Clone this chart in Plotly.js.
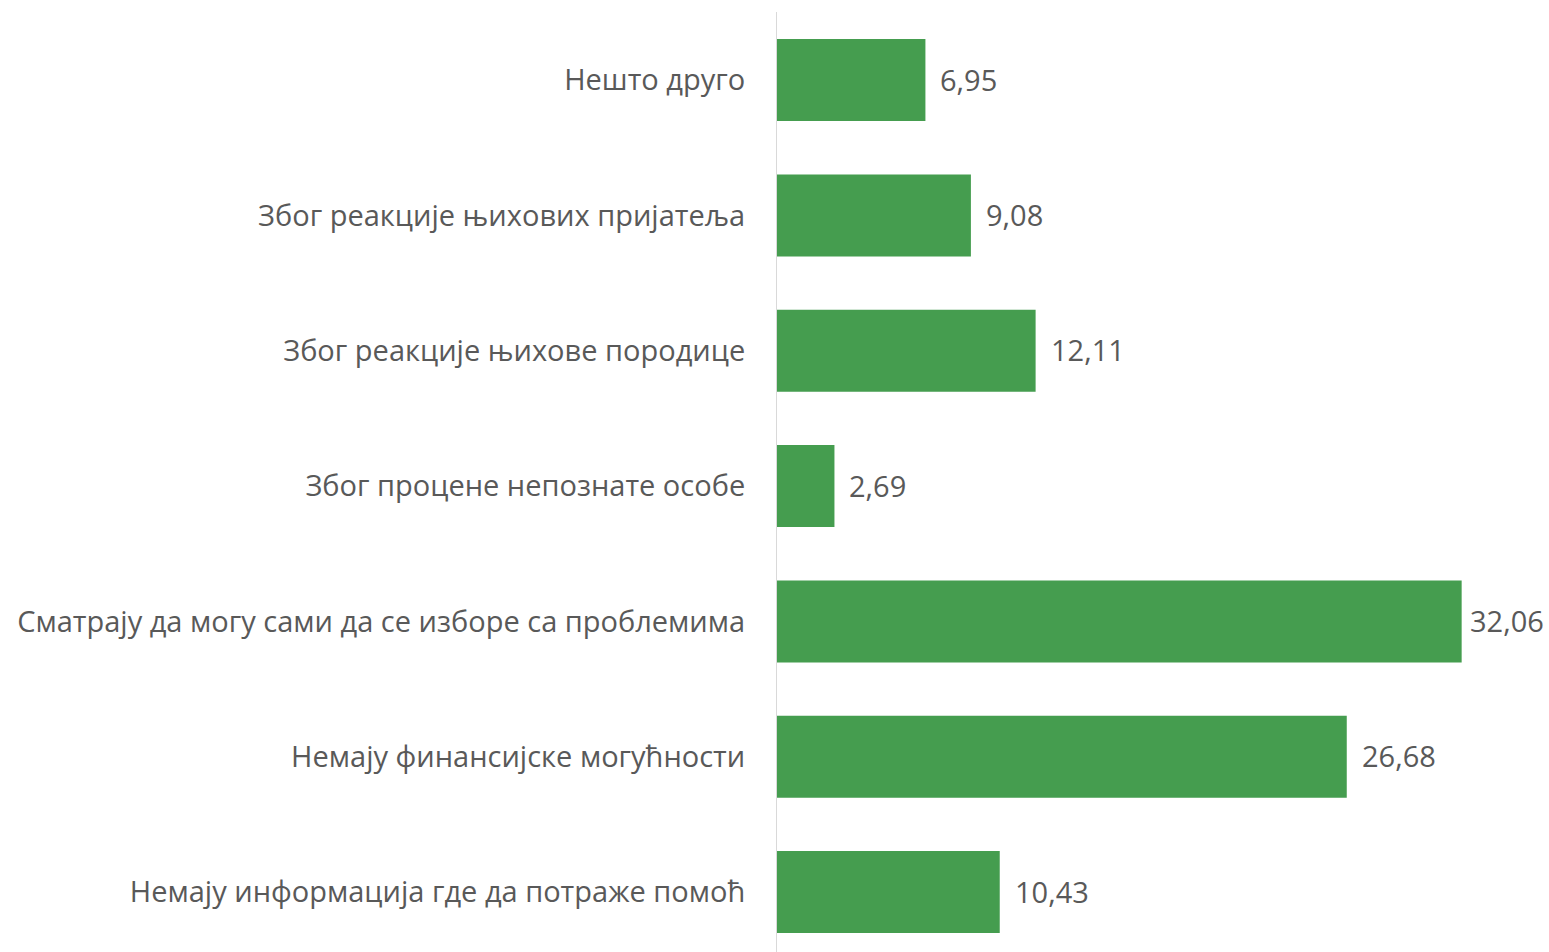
<!DOCTYPE html>
<html>
<head>
<meta charset="utf-8">
<script src="https://cdn.plot.ly/plotly-3.0.1.min.js"></script>
<style>html,body{margin:0;padding:0;background:#fff;overflow:hidden}</style>
</head>
<body>
<div id="chart" style="width:1549px;height:952px"></div>
<script>
const categories = [
  "Немају информација где да потраже помоћ",
  "Немају финансијске могућности",
  "Сматрају да могу сами да се изборе са проблемима",
  "Због процене непознате особе",
  "Због реакције њихове породице",
  "Због реакције њихових пријатеља",
  "Нешто друго"
];
const values = [10.43, 26.68, 32.06, 2.69, 12.11, 9.08, 6.95];
const valueLabels = ["10,43", "26,68", "32,06", "2,69", "12,11", "9,08", "6,95"];

const trace = {
  type: 'bar',
  orientation: 'h',
  y: categories,
  x: values,
  marker: {color: '#459D4F'},
  hoverinfo: 'none'
};

const maxVal = Math.max(...values);
const annotations = values.map((v, i) => ({
  x: v,
  y: categories[i],
  xref: 'x',
  yref: 'y',
  text: valueLabels[i],
  showarrow: false,
  xanchor: 'left',
  yanchor: 'middle',
  xshift: v === maxVal ? 6 : 13,
  yshift: 1,
  font: {family: 'Open Sans', size: 29, color: '#595959'}
}));

const layout = {
  width: 1549,
  height: 952,
  margin: {l: 777, r: 0, t: 12, b: 0, pad: 0},
  paper_bgcolor: '#ffffff',
  plot_bgcolor: '#ffffff',
  bargap: 0.394,
  showlegend: false,
  font: {family: 'Open Sans', size: 29, color: '#595959'},
  annotations: annotations,
  xaxis: {
    range: [0, 36.15],
    visible: false,
    showgrid: false,
    zeroline: false
  },
  yaxis: {
    type: 'category',
    range: [-0.443, 6.503],
    showline: true,
    linecolor: '#d9d9d9',
    linewidth: 1,
    showgrid: false,
    zeroline: false,
    ticks: '',
    ticklabelstandoff: 25,
    tickfont: {family: 'Open Sans', size: 29, color: '#595959'}
  }
};

Plotly.newPlot('chart', [trace], layout, {staticPlot: true, displayModeBar: false});
</script>
</body>
</html>
